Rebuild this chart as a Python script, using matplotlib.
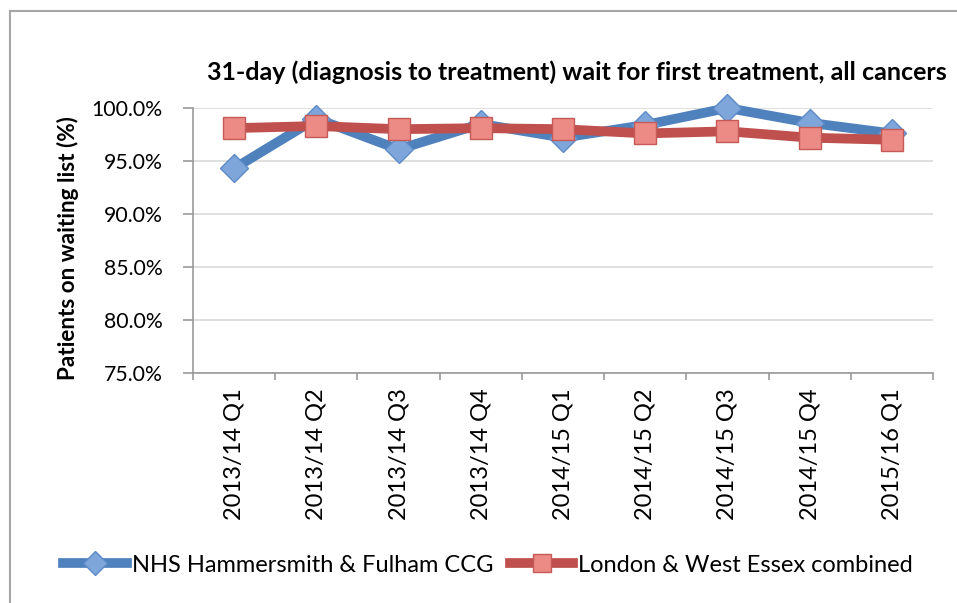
import matplotlib
matplotlib.use("Agg")
import matplotlib.pyplot as plt
from matplotlib.lines import Line2D

categories = ["2013/14 Q1", "2013/14 Q2", "2013/14 Q3", "2013/14 Q4", "2014/15 Q1",
              "2014/15 Q2", "2014/15 Q3", "2014/15 Q4", "2015/16 Q1"]
nhs_hf = [94.3, 99.0, 96.1, 98.5, 97.2, 98.4, 100.0, 98.6, 97.6]
london_we = [98.1, 98.3, 98.0, 98.1, 98.0, 97.6, 97.8, 97.2, 97.0]
yticks = [75, 80, 85, 90, 95, 100]

plt.rcParams['font.family'] = ['Lato', 'DejaVu Sans']

fig = plt.figure(figsize=(9.57, 6.03), dpi=100)
ax = fig.add_axes([193/957, 1-373/603, (933-193)/957, (373-108)/603])

x = list(range(len(categories)))
blue_line = '#4F81BD'
blue_mk = '#7FA6DA'
red_line = '#C0504D'
red_mk = '#EC8A86'

ax.plot(x, nhs_hf, color=blue_line, lw=7, marker='D', ms=14, mfc=blue_mk,
        mec='#5C8BC8', mew=1, clip_on=False, zorder=3, label='NHS Hammersmith & Fulham CCG')
ax.plot(x, london_we, color=red_line, lw=7, marker='s', ms=16, mfc=red_mk,
        mec='#C65A56', mew=1, clip_on=False, zorder=4, label='London & West Essex combined')

ax.set_xlim(-0.5, len(categories) - 0.5)
ax.set_ylim(75, 100)
ax.set_yticks(yticks)
ax.set_yticklabels([f"{v:.1f}%" for v in yticks], fontsize=15.3)
ax.set_xticks(x)
ax.set_xticklabels(categories, rotation=90, fontsize=17)
ax.set_xticks([i - 0.5 for i in range(len(categories) + 1)], minor=True)
ax.tick_params(axis='x', which='major', length=0, pad=11)
ax.tick_params(axis='x', which='minor', length=5, color='#999999', width=1.2)
ax.tick_params(axis='y', length=7, color='#999999', width=1.2, pad=15)

for s in ['top', 'right']:
    ax.spines[s].set_visible(False)
for s in ['left', 'bottom']:
    ax.spines[s].set_color('#999999')
    ax.spines[s].set_linewidth(1.2)
ax.grid(axis='y', color='#D9D9D9', lw=1.2)
ax.set_axisbelow(True)

fig.text(68/957, 1-248/603, 'Patients on waiting list (%)', rotation=90,
         ha='center', va='center', fontsize=16.2, fontweight='bold')
fig.text(577/957, 1-72/603, '31-day (diagnosis to treatment) wait for first treatment, all cancers',
         ha='center', va='center', fontsize=18, fontweight='bold')

handles = [
    Line2D([0], [0], color=blue_line, lw=7, marker='D', ms=12, mfc=blue_mk, mec='#5C8BC8'),
    Line2D([0], [0], color=red_line, lw=7, marker='s', ms=13, mfc=red_mk, mec='#C65A56'),
]
fig.legend(handles, ['NHS Hammersmith & Fulham CCG', 'London & West Essex combined'],
           loc='center', bbox_to_anchor=(488/957, 1-565/603), ncol=2, frameon=False,
           fontsize=17, handlelength=2.7, handletextpad=0.2, columnspacing=0.7)

# figure border (left and top visible)
fig.add_artist(Line2D([10/957, 10/957], [0, 1-11/603], transform=fig.transFigure, color='#A6A6A6', lw=1.5))
fig.add_artist(Line2D([10/957, 1], [1-11/603, 1-11/603], transform=fig.transFigure, color='#A6A6A6', lw=1.5))

fig.savefig('out.png', dpi=100)
